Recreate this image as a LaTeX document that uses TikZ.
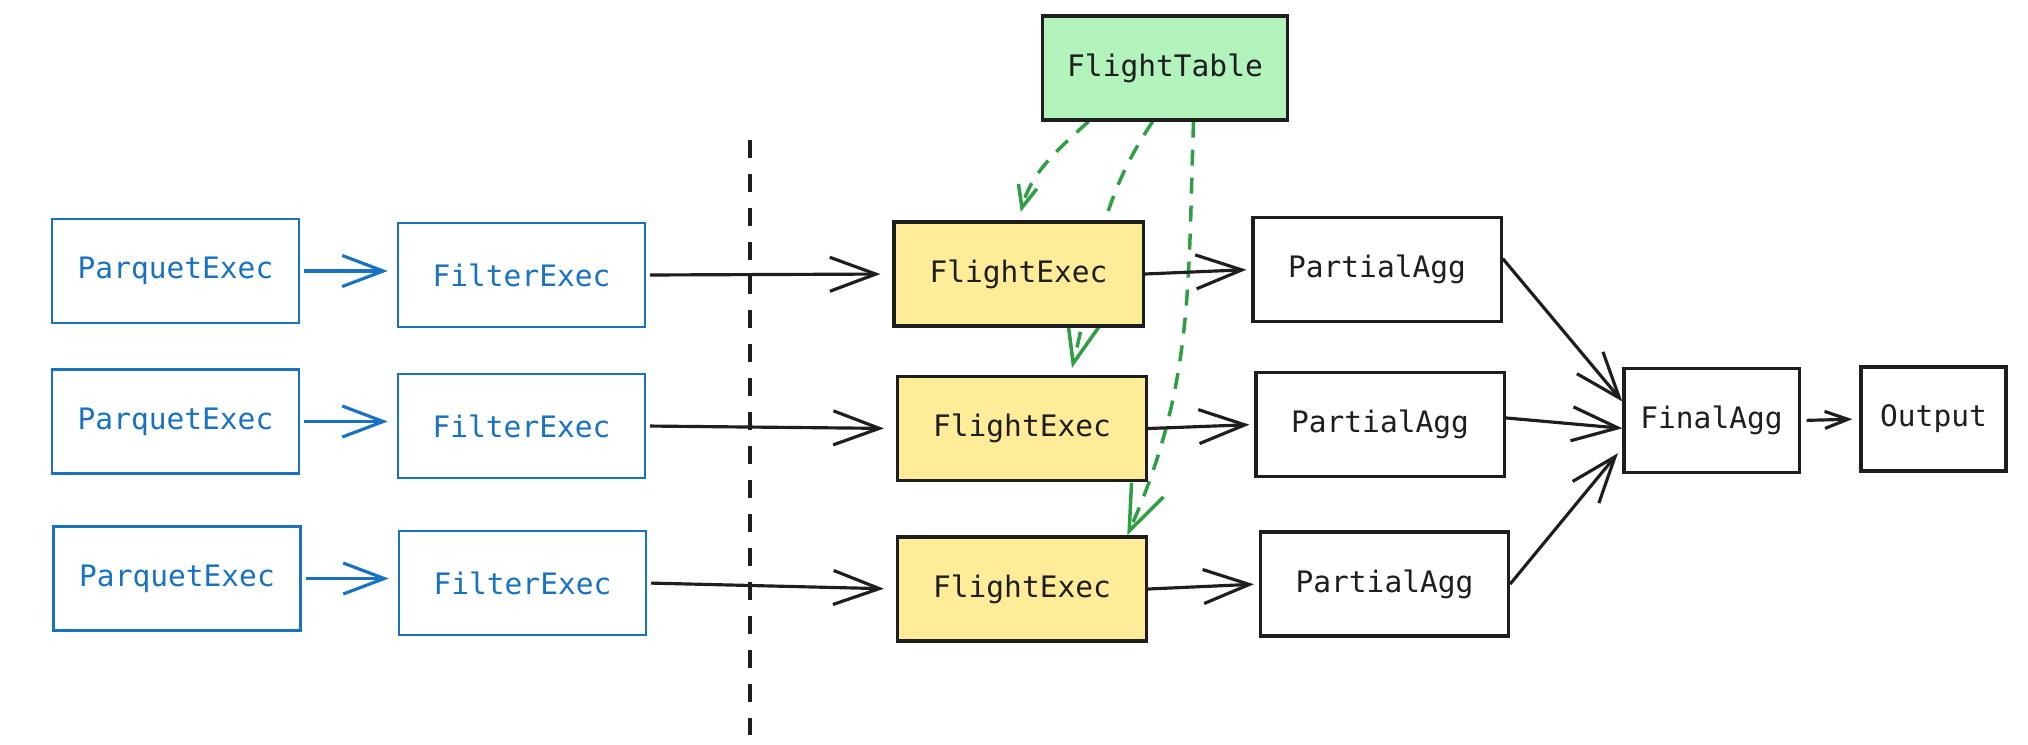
\documentclass[tikz,border=0pt]{standalone}
\usepackage{fontspec}
\setmonofont{DejaVu Sans Mono}
\usetikzlibrary{arrows.meta}
\definecolor{ExecBlue}{RGB}{25,113,194}
\definecolor{InkBlack}{RGB}{30,30,30}
\definecolor{TableGreen}{RGB}{178,242,187}
\definecolor{ArrowGreen}{RGB}{47,158,68}
\definecolor{SoftYellow}{RGB}{255,236,153}
\pgfdeclarelayer{background}
\pgfsetlayers{background,main}
\tikzset{
  boxbase/.style={font=\ttfamily\fontsize{8.4}{10}\selectfont,
    inner sep=0pt,minimum height=1.04cm,align=center},
  scan/.style={boxbase,draw=ExecBlue,text=ExecBlue,line width=0.8pt,
    minimum width=2.47cm},
  flight/.style={boxbase,draw=InkBlack,text=InkBlack,fill=SoftYellow,
    line width=0.9pt,minimum width=2.49cm},
  agg/.style={boxbase,draw=InkBlack,text=InkBlack,fill=white,line width=0.9pt},
  tablebox/.style={boxbase,draw=InkBlack,text=InkBlack,fill=TableGreen,
    line width=0.9pt,minimum width=2.45cm},
  flow/.style={-{Straight Barb[length=0.46cm,width=0.34cm]},line width=0.9pt,
    InkBlack},
  blueflow/.style={-{Straight Barb[length=0.41cm,width=0.31cm]},
    line width=0.9pt,ExecBlue},
  feed/.style={-{Straight Barb[length=0.45cm,width=0.35cm]},line width=1pt,
    ArrowGreen,dash pattern=on 0.16cm off 0.12cm},
  divider/.style={InkBlack,line width=0.9pt,dash pattern=on 0.18cm off 0.16cm}
}

\begin{document}
\begin{tikzpicture}[x=0.01cm,y=0.01cm]
  \useasboundingbox (0,0) rectangle (2028,744);

  \draw[divider] (750,604) -- (750,9);

  \node[scan] (pq1) at (175.5,473) {ParquetExec};
  \node[scan] (pq2) at (175.5,322.5) {ParquetExec};
  \node[scan] (pq3) at (177,165.5) {ParquetExec};
  \node[scan] (ft1) at (521.5,469) {FilterExec};
  \node[scan] (ft2) at (521.5,318) {FilterExec};
  \node[scan] (ft3) at (522.5,161) {FilterExec};

  \node[tablebox] (tbl) at (1165,676) {FlightTable};
  \node[flight] (fe1) at (1018.5,470) {FlightExec};
  \node[flight] (fe2) at (1022,315.5) {FlightExec};
  \node[flight] (fe3) at (1022,155) {FlightExec};

  \node[agg,minimum width=2.48cm] (pa1) at (1377,474.5) {PartialAgg};
  \node[agg,minimum width=2.48cm] (pa2) at (1380,319.5) {PartialAgg};
  \node[agg,minimum width=2.48cm] (pa3) at (1384.5,160) {PartialAgg};
  \node[agg,minimum width=1.75cm] (fin) at (1711.5,323.5) {FinalAgg};
  \node[agg,minimum width=1.45cm] (out) at (1933.5,325) {Output};

  \draw[blueflow,shorten <=1pt,shorten >=2.5pt] (pq1.east) -- (ft1.west |- pq1.east);
  \draw[blueflow,shorten <=1pt,shorten >=2.5pt] (pq2.east) -- (ft2.west |- pq2.east);
  \draw[blueflow,shorten <=1pt,shorten >=2.5pt] (pq3.east) -- (ft3.west |- pq3.east);

  \draw[flow,shorten <=1pt,shorten >=3.4pt] (ft1.east) -- (fe1.west);
  \draw[flow,shorten <=1pt,shorten >=3.4pt] (ft2.east) -- (fe2.west);
  \draw[flow,shorten <=1pt,shorten >=3.4pt] (ft3.east) -- (fe3.west);

  \draw[flow,shorten >=1.4pt] (fe1.east) -- (pa1.west);
  \draw[flow,shorten >=1.4pt] (fe2.east) -- (pa2.west);
  \draw[flow,shorten >=1.4pt] (fe3.east) -- (pa3.west);

  \draw[flow] (pa1.5) -- (fin.168);
  \draw[flow] (pa2.3) -- (fin.185);
  \draw[flow,shorten >=2pt] (pa3.east) -- (fin.197);
  \draw[flow,-{Straight Barb[length=0.23cm,width=0.17cm]},shorten <=1.7pt,
    shorten >=2pt] (fin.east) -- (out.west);

  \begin{pgfonlayer}{background}
    \draw[feed,-{Straight Barb[length=0.22cm,width=0.19cm]},shorten >=2.5pt]
      (tbl.215) to[out=222,in=75] (fe1.north);
    \draw[feed,shorten >=2pt] (tbl.257) to[out=236,in=76] (fe2.48);
    \draw[feed] (tbl.298) to[out=268,in=66] (fe3.27);
  \end{pgfonlayer}
\end{tikzpicture}
\end{document}
